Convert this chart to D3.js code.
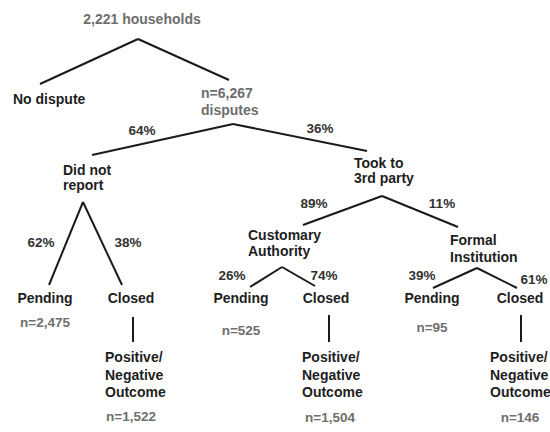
<!DOCTYPE html>
<html>
<head>
<meta charset="utf-8">
<script src="https://cdn.jsdelivr.net/npm/d3@7"></script>
<style>
  html, body { margin: 0; padding: 0; background: #fff; }
  svg { display: block; }
  text { font-family: "Liberation Sans", Arial, sans-serif; font-weight: bold; }
</style>
</head>
<body>
<svg id="chart" width="550" height="432"></svg>
<script>
// ---- data ----
const ids = ["root","none","disp","dnr","took","dnrPend","dnrClosed","dnrOut",
             "ca","fi","caPend","caClosed","caOut","fiPend","fiClosed","fiOut"];
const parents = [null,"root","root","disp","disp","dnr","dnr","dnrClosed",
                 "took","took","ca","ca","caClosed","fi","fi","fiClosed"];
const labels = [["2,221 households"],["No dispute"],["n=6,267","disputes"],["Did not","report"],
                ["Took to","3rd party"],["Pending"],["Closed"],["Positive/","Negative","Outcome"],
                ["Customary","Authority"],["Formal","Institution"],["Pending"],["Closed"],
                ["Positive/","Negative","Outcome"],["Pending"],["Closed"],["Positive/","Negative","Outcome"]];
const shares = [null,null,null,64,36,62,38,null,89,11,26,74,null,39,61,null];
const counts = [null,null,null,null,null,2475,null,1522,null,null,525,null,1504,95,null,146];
const greyLabels = ["root","disp"];

// ---- layout (diagram geometry, not data) ----
// a: "m" = centred on x, "s" = left-aligned at x
const layout = {
  root:     {x:142, y:24,  a:"m", lh:0,  apex:[138,39]},
  none:     {x:13,  y:104, a:"s", lh:0,  top:[40,84]},
  disp:     {x:201, y:98,  a:"s", lh:17, top:[229,80],  apex:[233,124]},
  dnr:      {x:63,  y:175, a:"s", lh:15, top:[92,155],  apex:[83,202],  pct:[142,135]},
  took:     {x:354, y:168, a:"s", lh:15, top:[367,151], apex:[382,196], pct:[320,133]},
  dnrPend:  {x:45,  y:303, a:"m", lh:0,  top:[49,285],  pct:[41,247],   cy:327},
  dnrClosed:{x:131, y:303, a:"m", lh:0,  top:[122,285], apex:[133,317], pct:[128,247]},
  dnrOut:   {x:105, y:362, a:"s", lh:17.5, top:[133,342], cy:421, cx:131},
  ca:       {x:248, y:240, a:"s", lh:16, top:[303,225], apex:[282,267], pct:[314,208]},
  fi:       {x:450, y:245, a:"s", lh:17, top:[458,227], apex:[477,268], pct:[442,208]},
  caPend:   {x:241, y:303, a:"m", lh:0,  top:[250,287], pct:[232,280],  cy:335},
  caClosed: {x:326, y:303, a:"m", lh:0,  top:[315,286], apex:[329,315], pct:[324,280]},
  caOut:    {x:302, y:362, a:"s", lh:17.5, top:[329,342], cy:422, cx:330},
  fiPend:   {x:432, y:303, a:"m", lh:0,  top:[433,288], pct:[422,280],  cy:332},
  fiClosed: {x:520, y:303, a:"m", lh:0,  top:[517,288], apex:[521,315], pct:[534,284]},
  fiOut:    {x:490, y:362, a:"s", lh:17.5, top:[521,342], cy:422, cx:520}
};

const table = ids.map((id, i) => ({id, parent: parents[i], label: labels[i], share: shares[i], count: counts[i]}));
const root = d3.stratify().id(d => d.id).parentId(d => d.parent)(table);

const svg = d3.select("#chart");
const fmt = d3.format(",");
const pctFmt = v => v + "%";

// edges
svg.append("g").selectAll("line")
  .data(root.links())
  .join("line")
  .attr("x1", d => layout[d.source.id].apex[0])
  .attr("y1", d => layout[d.source.id].apex[1])
  .attr("x2", d => layout[d.target.id].top[0])
  .attr("y2", d => layout[d.target.id].top[1])
  .attr("stroke", "#1a1a1a")
  .attr("stroke-width", 2);

// percentage labels
svg.append("g").selectAll("text")
  .data(root.descendants().filter(d => d.data.share != null))
  .join("text")
  .attr("x", d => layout[d.id].pct[0])
  .attr("y", d => layout[d.id].pct[1])
  .attr("text-anchor", "middle")
  .attr("font-size", 13.5)
  .attr("fill", "#333")
  .text(d => pctFmt(d.data.share));

// node labels
const nodes = svg.append("g").selectAll("text")
  .data(root.descendants())
  .join("text")
  .attr("text-anchor", d => layout[d.id].a === "s" ? "start" : "middle")
  .attr("font-size", 14)
  .attr("fill", d => greyLabels.includes(d.id) ? "#6e6e6e" : "#1e1e1e");
nodes.selectAll("tspan")
  .data(d => d.data.label.map((t, i) => ({t, i, L: layout[d.id]})))
  .join("tspan")
  .attr("x", d => d.L.x)
  .attr("y", d => d.L.y + d.i * d.L.lh)
  .text(d => d.t);

// counts
svg.append("g").selectAll("text")
  .data(root.descendants().filter(d => d.data.count != null))
  .join("text")
  .attr("x", d => layout[d.id].cx != null ? layout[d.id].cx : layout[d.id].x)
  .attr("y", d => layout[d.id].cy)
  .attr("text-anchor", "middle")
  .attr("font-size", 13.5)
  .attr("fill", "#6e6e6e")
  .text(d => "n=" + fmt(d.data.count));
</script>
</body>
</html>
